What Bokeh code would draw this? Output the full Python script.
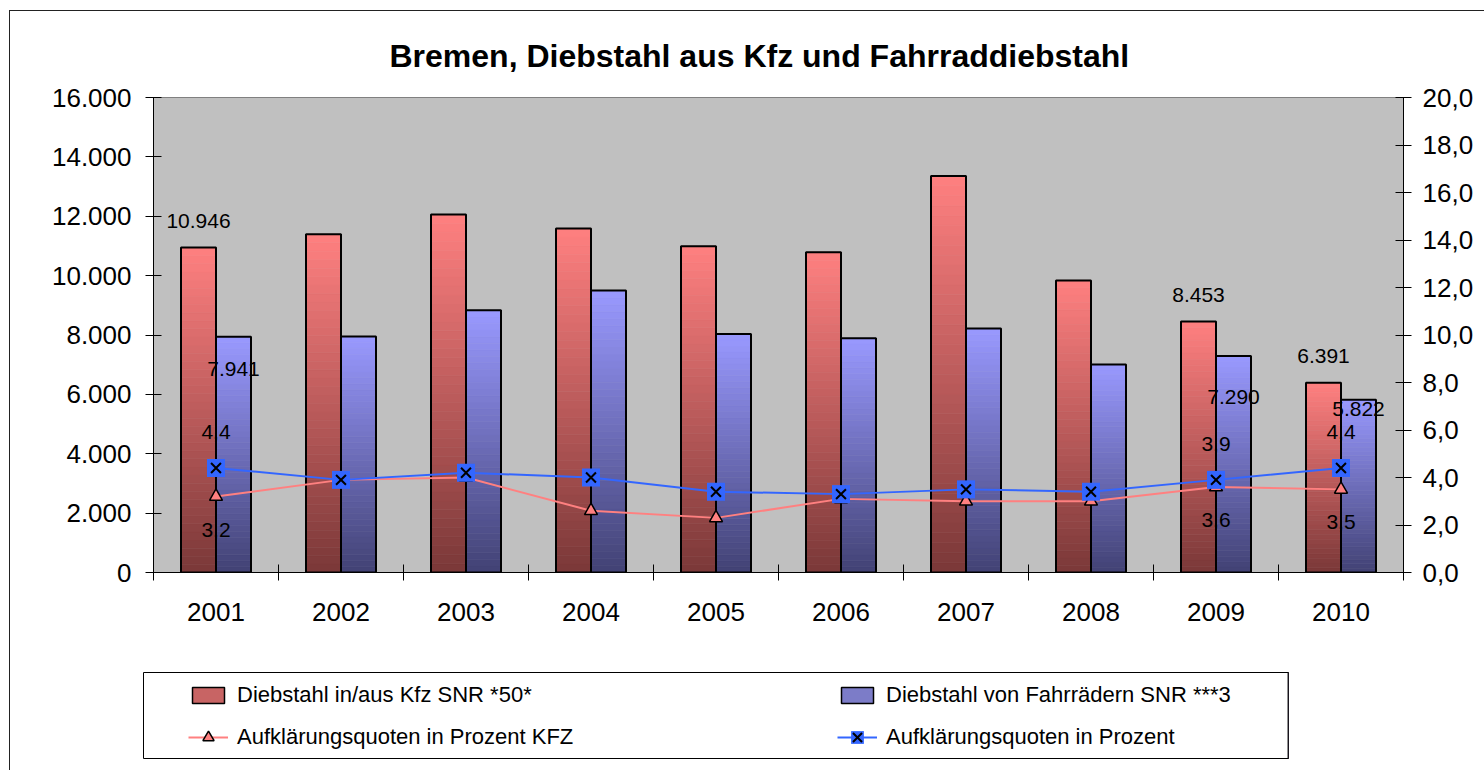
from bokeh.plotting import figure
from bokeh.layouts import column
from bokeh.models import (Range1d, LinearAxis, FixedTicker, Legend, LegendItem,
                          ColumnDataSource)
from bokeh.embed import file_html
from bokeh.resources import INLINE
from bokeh.core.properties import value

# ---------------- data ----------------
years = ["2001", "2002", "2003", "2004", "2005", "2006", "2007", "2008", "2009", "2010"]
kfz_theft = [10946, 11390, 12060, 11590, 10990, 10790, 13360, 9840, 8453, 6391]
bike_theft = [7941, 7950, 8830, 9500, 8030, 7890, 8220, 7010, 7290, 5822]
quote_kfz = [3.2, 3.9, 4.0, 2.6, 2.3, 3.1, 3.0, 3.0, 3.6, 3.5]
quote_all = [4.4, 3.9, 4.2, 4.0, 3.4, 3.3, 3.5, 3.4, 3.9, 4.4]
labelled_idx = [0, 8, 9]
left_ticks = [0, 2000, 4000, 6000, 8000, 10000, 12000, 14000, 16000]
right_ticks = [0, 2, 4, 6, 8, 10, 12, 14, 16, 18, 20]

name_kfz = "Diebstahl in/aus Kfz SNR *50*"
name_bike = "Diebstahl von Fahrrädern SNR ***3"
name_qkfz = "Aufklärungsquoten in Prozent KFZ"
name_qall = "Aufklärungsquoten in Prozent"
title_text = "Bremen, Diebstahl aus Kfz und Fahrraddiebstahl"

# ---------------- styling ----------------
FONT = "Liberation Sans"
BAR_W = 0.28
RED_TOP, RED_BOT = (255, 128, 128), (122, 56, 56)
BLUE_TOP, BLUE_BOT = (153, 153, 255), (66, 66, 116)
RED_LINE, BLUE_LINE = "#FF8080", "#3366FF"
bike_label_dy = [32, 41, 9]
W = 1474
H_TOP = 641
H_BOT = 118

def de_int(v):
    return f"{v:,}".replace(",", ".")

def de_dec(v):
    return f"{v:.1f}".replace(".", ",")

n = len(years)
xs = list(range(n))

p = figure(width=W, height=H_TOP, output_backend="svg", toolbar_location=None,
           x_range=Range1d(-0.5, n - 0.5), y_range=Range1d(0, 16000),
           min_border_left=143, min_border_right=81, min_border_top=86,
           min_border_bottom=H_TOP - 561, background_fill_color="#C0C0C0",
           border_fill_color="white", outline_line_color="#808080",
           outline_line_width=1)
p.extra_y_ranges = {"pct": Range1d(0, 20)}
p.xgrid.visible = False
p.ygrid.visible = False

p.title.text = title_text
p.title.align = "left"
p.title.offset = 236
p.title.text_font = FONT
p.title.text_font_size = "32px"
p.title.text_font_style = "bold"
p.title.text_color = "black"
p.title.standoff = 48

# ---------------- gradient bars ----------------
NB = 40
def mix(c1, c2, t):
    return "#%02x%02x%02x" % tuple(int(round(a + (b - a) * t)) for a, b in zip(c1, c2))

def bands(vals, offset, top_c, bot_c):
    d = dict(x=[], bottom=[], top=[], color=[])
    for i, v in enumerate(vals):
        for k in range(NB):
            d["x"].append(i + offset)
            d["bottom"].append(v * k / NB)
            d["top"].append(v * (k + 1) / NB)
            d["color"].append(mix(bot_c, top_c, (k + 0.5) / NB))
    return ColumnDataSource(d)

for vals, off, tc, bc in [(kfz_theft, -BAR_W / 2, RED_TOP, RED_BOT),
                          (bike_theft, BAR_W / 2, BLUE_TOP, BLUE_BOT)]:
    p.vbar(x="x", bottom="bottom", top="top", width=BAR_W, fill_color="color",
           line_color="color", line_width=0.6, source=bands(vals, off, tc, bc))
    p.vbar(x=[i + off for i in xs], top=vals, width=BAR_W, fill_color=None,
           line_color="black", line_width=2)

# ---------------- lines ----------------
p.line(xs, quote_kfz, y_range_name="pct", line_color=RED_LINE, line_width=2)
p.scatter(xs, quote_kfz, y_range_name="pct", marker="triangle", size=13,
          fill_color=RED_LINE, line_color="black", line_width=1.5)
p.line(xs, quote_all, y_range_name="pct", line_color=BLUE_LINE, line_width=2)
p.scatter(xs, quote_all, y_range_name="pct", marker="square", size=18,
          fill_color=BLUE_LINE, line_color=None)
p.scatter(xs, quote_all, y_range_name="pct", marker="x", size=14,
          line_color="black", line_width=2)

# ---------------- data labels ----------------
lab_kw = dict(text_font=value(FONT), text_font_size="21px", text_align="center",
              text_baseline="middle", text_color="black")
p.text(x=[i - BAR_W / 2 for i in labelled_idx], y=[kfz_theft[i] for i in labelled_idx],
       text=[de_int(kfz_theft[i]) for i in labelled_idx], y_offset=-27, **lab_kw)
p.text(x=[i + BAR_W / 2 for i in labelled_idx], y=[bike_theft[i] for i in labelled_idx],
       text=[de_int(bike_theft[i]) for i in labelled_idx], y_offset=bike_label_dy, **lab_kw)
p.text(x=labelled_idx, y=[quote_all[i] for i in labelled_idx], y_range_name="pct",
       text=[de_dec(quote_all[i]) for i in labelled_idx], y_offset=-36, **lab_kw)
p.text(x=labelled_idx, y=[quote_kfz[i] for i in labelled_idx], y_range_name="pct",
       text=[de_dec(quote_kfz[i]) for i in labelled_idx], y_offset=33, **lab_kw)

# ---------------- axes ----------------
xa = p.xaxis[0]
xa.ticker = FixedTicker(ticks=xs, minor_ticks=[i - 0.5 for i in range(n + 1)])
xa.major_label_overrides = {i: y for i, y in enumerate(years)}
xa.major_tick_in = 0
xa.major_tick_out = 0
xa.minor_tick_in = 8
xa.minor_tick_out = 8
xa.minor_tick_line_color = "black"
xa.major_label_standoff = 22

ya = p.yaxis[0]
ya.ticker = FixedTicker(ticks=left_ticks)
ya.major_label_overrides = {t: de_int(t) for t in left_ticks}
ya.major_label_standoff = 14

ra = LinearAxis(y_range_name="pct", ticker=FixedTicker(ticks=right_ticks))
ra.major_label_overrides = {t: de_dec(t) for t in right_ticks}
ra.major_label_standoff = 11
p.add_layout(ra, "right")

for ax in (ya, ra):
    ax.major_tick_in = 8
    ax.major_tick_out = 8
    ax.minor_tick_line_color = None
for ax in (xa, ya, ra):
    ax.axis_line_color = "black"
    ax.major_tick_line_color = "black"
    ax.major_label_text_font = FONT
    ax.major_label_text_font_size = "26px"
    ax.major_label_text_color = "black"

# ---------------- legend (own figure; its frame is the legend box) ----------------
q = figure(width=W, height=H_BOT, output_backend="svg", toolbar_location=None,
           x_range=Range1d(0, 1), y_range=Range1d(0, 1),
           x_axis_type=None, y_axis_type=None,
           min_border_left=133, min_border_right=W - 1278, min_border_top=20,
           min_border_bottom=12, background_fill_color="white",
           border_fill_color="white", outline_line_color="black",
           outline_line_width=1)
q.xgrid.visible = False
q.ygrid.visible = False

for fig in (p, q):
    if "frame_align" in fig.properties():
        fig.frame_align = False

OFF = [5]  # dummy point outside the visible range, only so legend glyphs draw
red_bar_leg = q.vbar(x=OFF, top=OFF, width=0.1, fill_color="#C86464",
                     line_color="black", line_width=1.5)
blue_bar_leg = q.vbar(x=OFF, top=OFF, width=0.1, fill_color="#7C7CC8",
                      line_color="black", line_width=1.5)
r_line_leg = q.line(x=OFF, y=OFF, line_color=RED_LINE, line_width=2)
r_mark_leg = q.scatter(x=OFF, y=OFF, marker="triangle", size=13,
                       fill_color=RED_LINE, line_color="black", line_width=1.5)
b_line_leg = q.line(x=OFF, y=OFF, line_color=BLUE_LINE, line_width=2)
b_sq_leg = q.scatter(x=OFF, y=OFF, marker="square", size=18,
                     fill_color=BLUE_LINE, line_color=None)
b_x_leg = q.scatter(x=OFF, y=OFF, marker="x", size=14,
                    line_color="black", line_width=2)

leg_kw = dict(padding=0, margin=0, spacing=0, label_standoff=9, glyph_width=40,
              border_line_color=None, background_fill_alpha=0,
              label_text_font=FONT, label_text_font_size="22px",
              label_text_color="black", orientation="vertical")
legends = [
    Legend(items=[LegendItem(label=name_kfz, renderers=[red_bar_leg])],
           location=(45, 50), glyph_height=20, **leg_kw),
    Legend(items=[LegendItem(label=name_qkfz, renderers=[r_line_leg, r_mark_leg])],
           location=(45, 7), glyph_height=28, **leg_kw),
    Legend(items=[LegendItem(label=name_bike, renderers=[blue_bar_leg])],
           location=(694, 50), glyph_height=20, **leg_kw),
    Legend(items=[LegendItem(label=name_qall, renderers=[b_line_leg, b_sq_leg, b_x_leg])],
           location=(694, 5), glyph_height=32, **leg_kw),
]
for lg in legends:
    q.add_layout(lg)

layout = column(p, q, spacing=0,
                styles={"margin-left": "9px", "margin-top": "10px",
                        "border-left": "1px solid #222", "border-top": "1px solid #222"})

open("out.html", "w").write(file_html(layout, INLINE))
